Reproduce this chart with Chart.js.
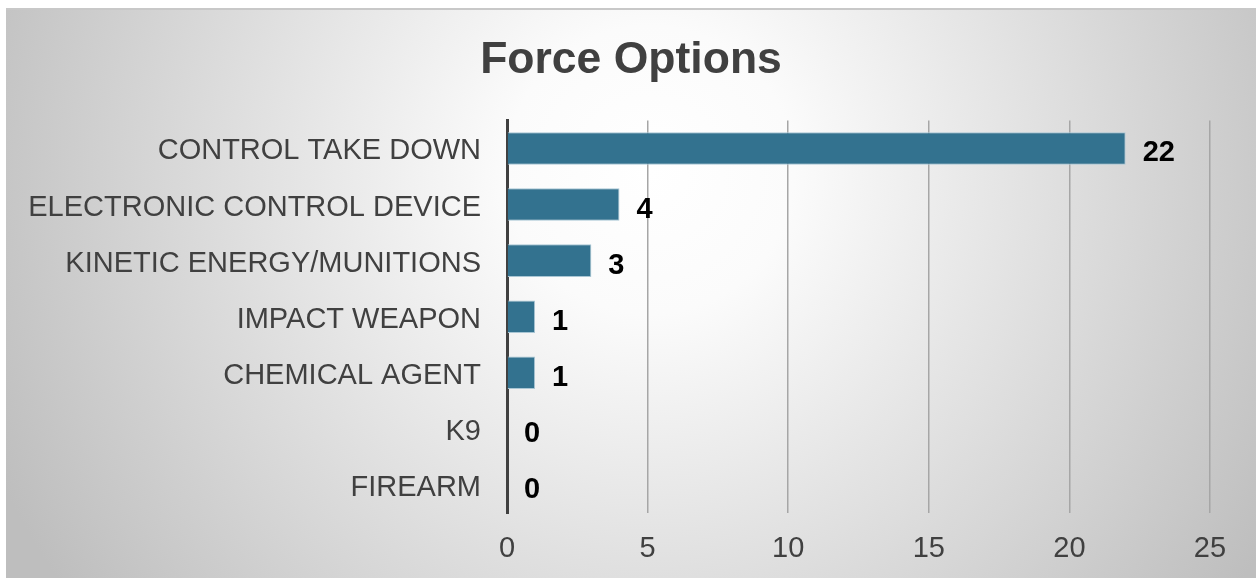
<!DOCTYPE html>
<html>
<head>
<meta charset="utf-8">
<script src="https://cdn.jsdelivr.net/npm/chart.js@4.4.1/dist/chart.umd.min.js"></script>
<style>
  html, body { margin: 0; padding: 0; background: #fff; }
  #wrap { width: 1256px; height: 578px; }
</style>
</head>
<body>
<div id="wrap"><canvas id="forceChart"></canvas></div>
<script>
var categories = ['CONTROL TAKE DOWN', 'ELECTRONIC CONTROL DEVICE', 'KINETIC ENERGY/MUNITIONS',
                  'IMPACT WEAPON', 'CHEMICAL AGENT', 'K9', 'FIREARM'];
var counts = [22, 4, 3, 1, 1, 0, 0];
var xTicks = [0, 5, 10, 15, 20, 25];

// grey radial backdrop, white strip on top/left like the original export
var backdrop = {
    id: 'backdrop',
    beforeDraw: function (chart) {
        var c = chart.ctx, w = chart.width, h = chart.height;
        c.save();
        c.fillStyle = '#ffffff';
        c.fillRect(0, 0, w, h);
        var g = c.createRadialGradient(650, 170, 0, 650, 170, 720);
        g.addColorStop(0, '#ffffff');
        g.addColorStop(0.2, '#fbfbfb');
        g.addColorStop(1, '#bebebe');
        c.fillStyle = g;
        c.fillRect(6, 8, w - 6, h - 8);
        c.fillStyle = '#c8c8c8';
        c.fillRect(6, 8, w - 6, 2);
        c.restore();
    }
};

// value labels past the end of each bar
var valueLabels = {
    id: 'valueLabels',
    afterDatasetsDraw: function (chart) {
        var c = chart.ctx;
        var meta = chart.getDatasetMeta(0);
        c.save();
        c.font = 'bold 29px "Liberation Sans", Arial, sans-serif';
        c.fillStyle = '#000000';
        c.textAlign = 'left';
        c.textBaseline = 'middle';
        meta.data.forEach(function (bar, i) {
            c.fillText(String(counts[i]), bar.x + 17, bar.y + 5);
        });
        c.restore();
    }
};

var ctx = document.getElementById('forceChart').getContext('2d');
var forceChart = new Chart(ctx, {
    type: 'bar',
    data: {
        labels: categories,
        datasets: [{
            data: counts,
            backgroundColor: '#33728f',
            borderColor: '#a9c6d4',
            borderWidth: 1,
            borderSkipped: 'start',
            barPercentage: 0.58,
            categoryPercentage: 1.0
        }]
    },
    options: {
        indexAxis: 'y',
        responsive: true,
        maintainAspectRatio: false,
        animation: false,
        layout: {
            padding: { left: 6, right: 0, top: 0, bottom: 0 }
        },
        plugins: {
            legend: { display: false },
            tooltip: { enabled: false },
            title: {
                display: true,
                text: 'Force Options',
                color: '#404040',
                font: { family: '"Liberation Sans", Arial, sans-serif', size: 44.5, weight: 'bold' },
                padding: { top: 34, bottom: 33 }
            }
        },
        scales: {
            x: {
                min: 0,
                max: 25,
                afterBuildTicks: function (axis) {
                    axis.ticks = xTicks.map(function (v) { return { value: v }; });
                },
                afterFit: function (axis) { axis.height = 65; },
                grid: { color: '#a6a6a6', lineWidth: 1.5, drawTicks: false },
                border: { display: false },
                ticks: {
                    color: '#404040',
                    padding: 19,
                    font: { family: '"Liberation Sans", Arial, sans-serif', size: 29 }
                }
            },
            y: {
                afterFit: function (axis) { axis.width = 501; },
                grid: { display: false },
                border: { color: '#404040', width: 3 },
                ticks: {
                    color: '#404040',
                    padding: 18,
                    labelOffset: 3,
                    font: { family: '"Liberation Sans", Arial, sans-serif', size: 29 }
                }
            },
            // empty right-hand spacer so the title stays centred on the full width
            spacer: {
                type: 'linear',
                axis: 'y',
                position: 'right',
                afterFit: function (axis) { axis.width = 46; },
                grid: { display: false },
                border: { display: false },
                ticks: { display: false }
            }
        }
    },
    plugins: [backdrop, valueLabels]
});
</script>
</body>
</html>
